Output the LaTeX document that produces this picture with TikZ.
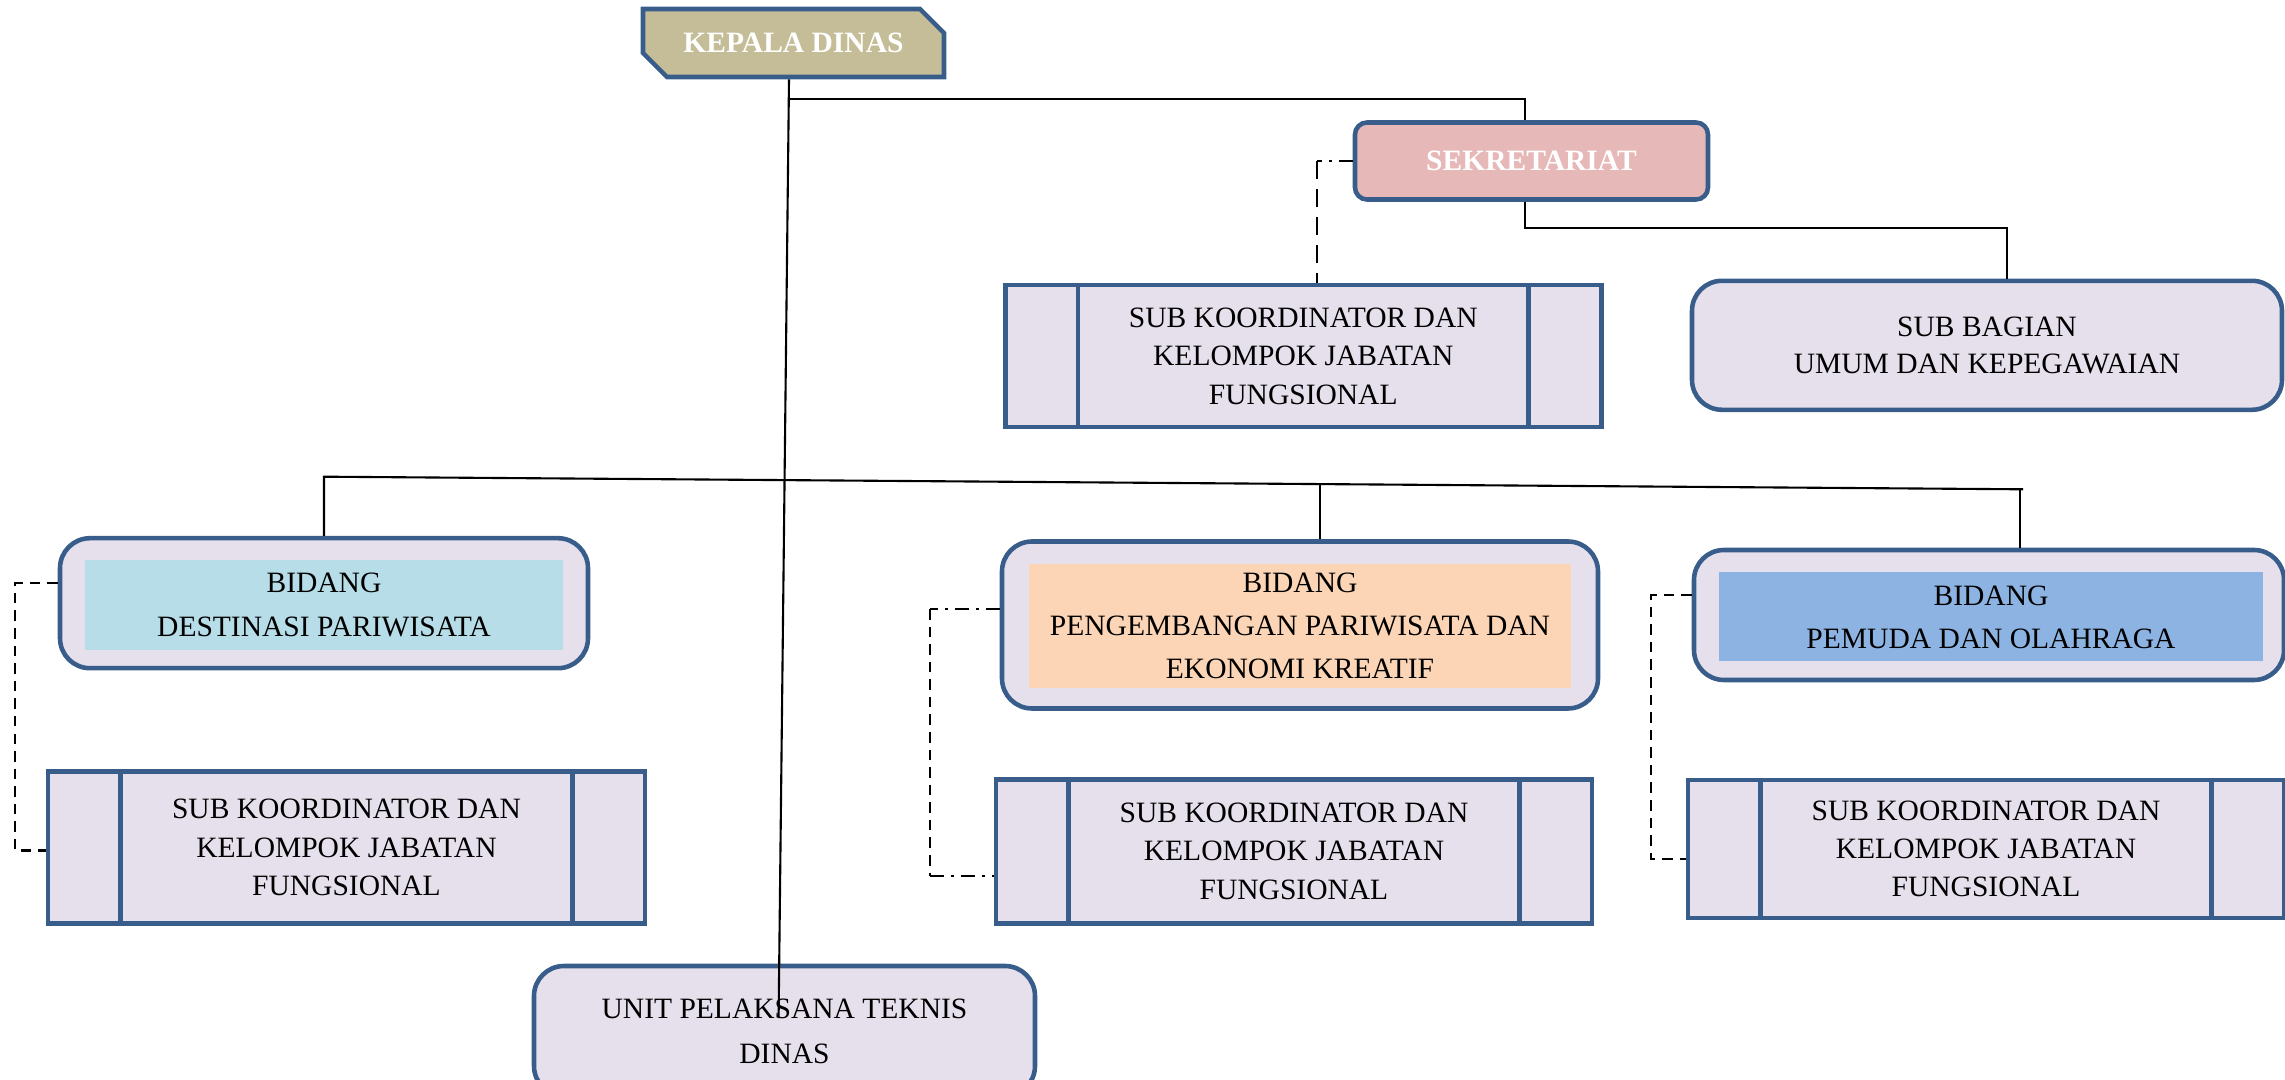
\documentclass[tikz,border=0pt]{standalone}
\usepackage{fontspec}
\setmainfont{Liberation Serif}
\usetikzlibrary{shapes.misc}
\usetikzlibrary{calc}
\definecolor{dinasblue}{HTML}{385D8A}
\definecolor{lavender}{HTML}{E5E0EC}
\definecolor{kepalatan}{HTML}{C4BD97}
\definecolor{sekretpink}{HTML}{E6B9B8}
\definecolor{destblue}{HTML}{B7DDE8}
\definecolor{pengpeach}{HTML}{FBD5B5}
\definecolor{pemudablue}{HTML}{8DB3E2}

\begin{document}
\begin{tikzpicture}[
    box/.style={draw=dinasblue, line width=1.3pt, fill=lavender, align=center,
        font=\fontsize{8.4}{10.9}\selectfont},
    headbox/.style={box, text=white, font=\bfseries\fontsize{8.4}{10}\selectfont},
    roundbox/.style={box, rounded corners=3mm},
    koordbox/.style={box, minimum width=5.96cm},
    inbox/.style={fill=#1, align=center, inner ysep=0.5pt,
        font=\fontsize{8.4}{12.3}\selectfont},
    link/.style={line width=0.6pt},
    sidedash/.style={link, dash pattern=on 3pt off 2pt},
    longdash/.style={link, dash pattern=on 5pt off 3pt},
    sidedashdot/.style={link, dash pattern=on 4pt off 2pt on 0.8pt off 2pt},
    innerline/.style={draw=dinasblue, line width=1.3pt}]
    \clip (0,0) rectangle (22.85,-10.8);

    \node [headbox, chamfered rectangle, chamfered rectangle corners={north east,south west},
        chamfered rectangle xsep=1.2mm, chamfered rectangle ysep=1.2mm, fill=kepalatan,
        minimum width=3.01cm, minimum height=0.68cm] (kepala) at (7.935,-0.43) {KEPALA DINAS};
    \node [headbox, rounded corners=1.2mm, fill=sekretpink, minimum width=3.53cm,
        minimum height=0.77cm] (sekret) at (15.315,-1.61) {SEKRETARIAT};
    \node [roundbox, minimum width=5.9cm, minimum height=1.29cm,
        font=\fontsize{8.4}{10.4}\selectfont] (subbag) at (19.87,-3.453) {SUB BAGIAN\\UMUM DAN KEPEGAWAIAN};
    \node [koordbox, minimum height=1.42cm] (koorA) at (13.033,-3.562) {SUB KOORDINATOR DAN\\KELOMPOK JABATAN\\FUNGSIONAL};

    % bidang
    \node [roundbox, minimum width=5.28cm, minimum height=1.30cm] (bidA) at (3.24,-6.032) {};
    \node [inbox=destblue, minimum width=4.78cm, minimum height=0.9cm] (bidAin) at (3.24,-6.05) {BIDANG\\DESTINASI PARIWISATA};
    \node [roundbox, minimum width=5.96cm, minimum height=1.67cm] (bidB) at (13.0,-6.25) {};
    \node [inbox=pengpeach, minimum width=5.42cm, minimum height=1.24cm] (bidBin) at (13.0,-6.258) {BIDANG\\PENGEMBANGAN PARIWISATA DAN\\EKONOMI KREATIF};
    \node [roundbox, minimum width=5.9cm, minimum height=1.3cm] (bidC) at (19.89,-6.15) {};
    \node [inbox=pemudablue, minimum width=5.44cm, minimum height=0.89cm] (bidCin) at (19.91,-6.17) {BIDANG\\PEMUDA DAN OLAHRAGA};

    \node [koordbox, minimum width=5.97cm, minimum height=1.52cm] (koorB) at (3.465,-8.475) {SUB KOORDINATOR DAN\\KELOMPOK JABATAN\\FUNGSIONAL};
    \node [koordbox, minimum height=1.44cm] (koorC) at (12.94,-8.513) {SUB KOORDINATOR DAN\\KELOMPOK JABATAN\\FUNGSIONAL};
    \node [koordbox, minimum height=1.38cm] (koorD) at (19.86,-8.49) {SUB KOORDINATOR DAN\\KELOMPOK JABATAN\\FUNGSIONAL};
    \node [roundbox, minimum width=5.01cm, minimum height=1.3cm,
        font=\fontsize{8.4}{12.8}\selectfont] (upt) at (7.845,-10.31) {UNIT PELAKSANA TEKNIS\\DINAS};

    \foreach \k in {koorA,koorB,koorC,koorD}{
        \draw [innerline] ([xshift=7.5mm]\k.north west) -- ([xshift=7.5mm]\k.south west);
        \draw [innerline] ([xshift=-7.5mm]\k.north east) -- ([xshift=-7.5mm]\k.south east);
    }

    % garis komando
    \coordinate (trunk) at (7.886,-0.993);
    \coordinate (uptend) at (7.786,-10.18);
    \draw [link] ([xshift=-0.45mm]kepala.south) -- (uptend);
    \draw [link] (trunk) -| ([xshift=-0.65mm]sekret.north);
    \draw [link] ([xshift=-0.65mm]sekret.south) -- ++(0,-0.26) -| ([xshift=2mm]subbag.north);

    \coordinate (busL) at (3.24,-4.767);
    \coordinate (busR) at (20.23,-4.893);
    \coordinate (busM) at ($(busL)!0.586!(busR)$);
    \draw [link] (bidA.north) -- (busL) -- (busR);
    \draw [link] ([xshift=-0.3mm]busR) -- ([xshift=-0.3mm]busR |- bidC.north);
    \draw [link] (busM) -- (busM |- bidB.north);

    % garis koordinasi
    \coordinate (koorAtop) at ([xshift=1.35mm]koorA.north);
    \draw [sidedashdot] (sekret.west) -- (sekret.west -| koorAtop);
    \draw [longdash] (sekret.west -| koorAtop) -- (koorAtop);
    \draw [sidedash] ([yshift=2mm]bidA.west) -- ++(-0.43,0) |- ([yshift=-0.3mm]koorB.west);
    \coordinate (bidBside) at ([yshift=1.6mm]bidB.west);
    \coordinate (koorCside) at ([yshift=-2.5mm]koorC.west);
    \coordinate (bidBturn) at ([xshift=-7mm]bidBside);
    \draw [sidedashdot] (bidBside) -- (bidBturn);
    \draw [sidedash] (bidBturn) -- (bidBturn |- koorCside);
    \draw [sidedashdot] (bidBturn |- koorCside) -- (koorCside);
    \draw [sidedash] ([yshift=2mm]bidC.west) -- ++(-0.41,0) |- ([yshift=-1mm]koorD.west);
\end{tikzpicture}
\end{document}
